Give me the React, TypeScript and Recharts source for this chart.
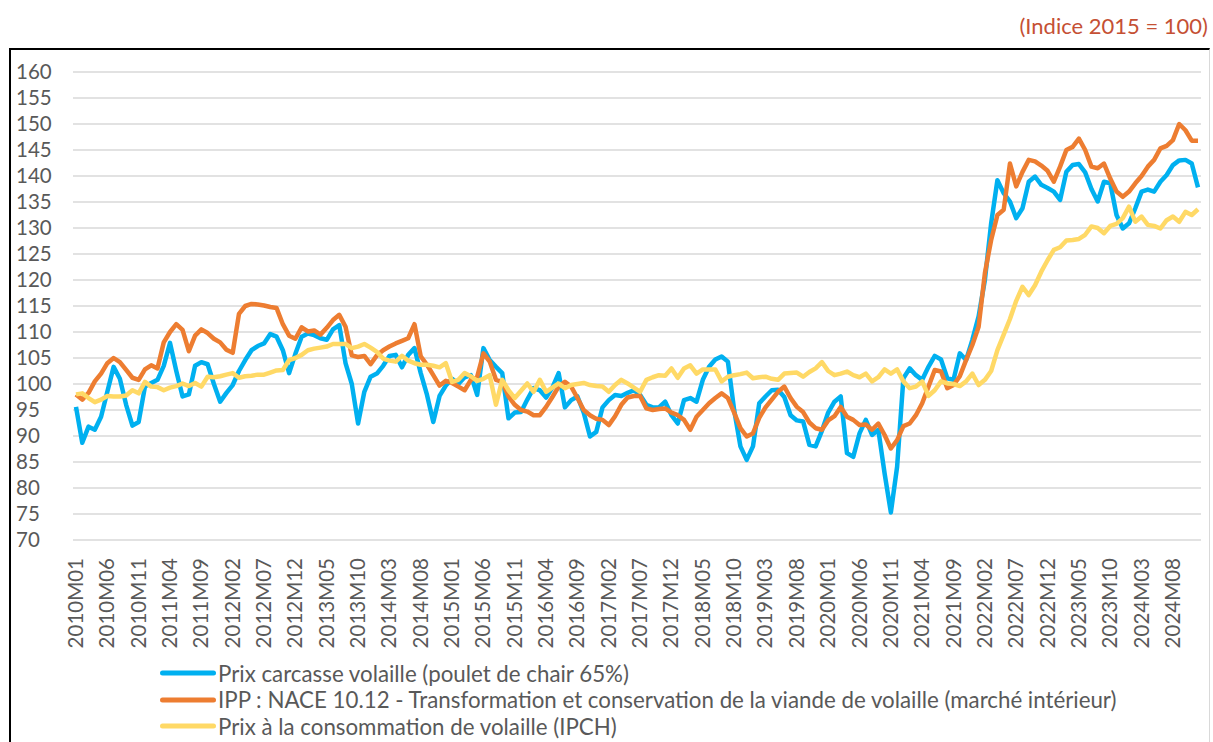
import React from 'react';
import { LineChart, Line, XAxis, YAxis, CartesianGrid } from 'recharts';

// monthly categories 2010M01 .. 2024M12
const years = [2010, 2011, 2012, 2013, 2014, 2015, 2016, 2017, 2018, 2019, 2020, 2021, 2022, 2023, 2024];
const monthCodes = ['01', '02', '03', '04', '05', '06', '07', '08', '09', '10', '11', '12'];
const months = years.flatMap((y) => monthCodes.map((m) => `${y}M${m}`));

// Prix carcasse volaille (poulet de chair 65%)
const carcasse = [
  95.6, 88.7, 91.8, 91.2, 93.7, 98.5, 103.3, 101, 96, 92, 92.7, 99.5,
  100.2, 100.8, 103.5, 107.9, 102.5, 97.6, 98, 103.5, 104.2, 103.8, 100, 96.6,
  98.3, 99.8, 102.5, 104.6, 106.5, 107.3, 107.8, 109.6, 109.1, 106.5, 102.1, 105.8,
  109.1, 109.7, 109.4, 108.8, 108.5, 110.5, 111.3, 104, 100, 92.4, 98.5, 101.4,
  102, 103.5, 105.4, 105.6, 103.2, 105.6, 106.9, 102.1, 97.9, 92.7, 97.7, 99.7,
  101, 100, 101.3, 101.7, 97.9, 106.9, 104.6, 103.3, 102.1, 93.4, 94.5, 94.6,
  97, 99.2, 98.8, 97.4, 99.3, 102.1, 95.5, 96.9, 97.6, 94.5, 89.9, 90.8,
  95.5, 96.9, 97.9, 97.7, 98.3, 98.8, 97.9, 96, 95.5, 95.5, 96.6, 94,
  92.4, 96.9, 97.3, 96.6, 100.8, 103.3, 104.7, 105.3, 104.3, 95, 88, 85.4,
  88, 96.3, 97.6, 98.8, 98.9, 97.5, 94, 93, 92.8, 88.3, 88, 91,
  94.5, 96.6, 97.6, 86.7, 86, 90.5, 93.1, 90.2, 91.2, 82.8, 75.3, 84.1,
  101.1, 103, 101.7, 100.8, 103.3, 105.4, 104.7, 101.1, 100.8, 105.9, 104.6, 108.5,
  113, 120, 130.9, 139.2, 136.7, 135.1, 131.9, 133.8, 138.9, 139.9, 138.3, 137.7,
  137, 135.4, 140.8, 142.1, 142.3, 140.7, 137.5, 135.1, 138.9, 138.6, 132.5, 129.9,
  130.9, 133.8, 137, 137.4, 137, 138.9, 140.2, 142.1, 143, 143.1, 142.4, 137.8,
];

// IPP : NACE 10.12
const ipp = [
  98, 97, 98.3, 100.5, 102, 104, 105, 104.2, 102.7, 101.2, 100.8, 102.8,
  103.6, 103, 108, 110, 111.5, 110.4, 106.3, 109.3, 110.5, 109.8, 108.7, 108,
  106.6, 106, 113.5, 115, 115.4, 115.3, 115.1, 114.8, 114.6, 111.5, 109.3, 108.7,
  110.9, 110.1, 110.3, 109.5, 110.8, 112.3, 113.3, 111, 105.5, 105.2, 105.4, 103.8,
  105.5, 106.5, 107.2, 107.8, 108.3, 108.8, 111.5, 105.3, 103.7, 101.7, 99.7, 100.6,
  100.2, 99.5, 98.8, 100.8, 101.4, 105.9, 104.3, 100.8, 100.4, 97.6, 96, 95,
  94.7, 94, 94, 95.6, 97.5, 99.5, 100.4, 99.5, 97.3, 95, 94, 93.3,
  93.1, 92.1, 93.8, 96, 97.4, 97.7, 97.7, 95.3, 95, 95.2, 95.3, 94.5,
  94, 93.1, 91.2, 93.7, 95, 96.3, 97.3, 98.2, 97.3, 94.5, 91.5, 89.9,
  90.5, 93.5, 95.5, 97, 98.5, 99.5, 97.3, 95.6, 94.6, 92.6, 91.5, 91.2,
  93, 93.8, 95.6, 93.7, 93.1, 92.1, 92.2, 91.2, 92.4, 90.2, 87.6, 89.2,
  91.9, 92.4, 94, 96.3, 99.5, 102.7, 102.4, 99.2, 99.8, 101.5, 104.6, 107.5,
  111, 121.3, 127.7, 132.5, 133.5, 142.4, 138, 140.8, 143.1, 142.8, 142, 141,
  138.9, 141.8, 145, 145.6, 147.2, 145, 141.8, 141.5, 142.4, 139.5, 137, 136,
  137, 138.6, 140, 141.8, 143.1, 145.3, 145.8, 146.9, 150, 148.8, 146.8, 146.8,
];

// Prix à la consommation de volaille (IPCH)
const ipch = [
  98, 98.2, 97.3, 96.5, 97, 97.7, 97.6, 97.6, 97.8, 98.8, 98.2, 100.4,
  99.5, 99.4, 98.8, 99.3, 99.6, 100.1, 99.6, 100.2, 99.5, 101.4, 101.3, 101.5,
  101.8, 102.1, 101.2, 101.5, 101.6, 101.8, 101.8, 102.2, 102.6, 102.7, 104.6, 105,
  105.6, 106.5, 106.8, 107, 107.2, 107.7, 107.7, 107.7, 106.9, 107.2, 107.7, 107,
  106.2, 104.9, 104.5, 104.3, 105.4, 104.5, 104, 103.7, 103.7, 103.5, 103.2, 104,
  100.4, 100.8, 102.1, 101.5, 100.6, 101, 101.7, 96, 100.8, 98.8, 97.3, 98.7,
  100.1, 98.5, 100.8, 98.5, 99.3, 100.1, 99.2, 99.8, 100, 100.2, 99.8, 99.6,
  99.5, 98.5, 99.8, 100.8, 100.1, 99.3, 98.5, 100.8, 101.3, 101.7, 101.6, 103,
  101.2, 103, 103.6, 102, 102.8, 102.8, 102.8, 100.5, 101.4, 101.7, 101.9, 102.2,
  101.1, 101.3, 101.4, 101, 100.8, 102, 102.1, 102.2, 101.4, 102.3, 103, 104.2,
  102.5, 101.7, 102, 102.4, 101.7, 101.3, 102, 100.5, 101.3, 102.8, 102, 102.8,
  100.5, 99.2, 99.5, 100.5, 97.7, 98.8, 100.5, 100.1, 100, 99.6, 100.5, 102,
  99.8, 100.8, 102.5, 106.5, 109.5, 112.5, 116, 118.7, 117.1, 119, 121.6, 123.8,
  125.8, 126.3, 127.6, 127.7, 127.9, 128.7, 130.3, 130, 129, 130.4, 130.8, 131.9,
  134.1, 131.2, 132.2, 130.6, 130.4, 129.9, 131.5, 132.2, 131.2, 133.1, 132.5, 133.6,
];

const yTicks = [70, 75, 80, 85, 90, 95, 100, 105, 110, 115, 120, 125, 130, 135, 140, 145, 150, 155, 160];

const seriesNames = [
  'Prix carcasse volaille (poulet de chair 65%)',
  'IPP : NACE 10.12 - Transformation et conservation de la viande de volaille (marché intérieur)',
  'Prix à la consommation de volaille (IPCH)',
];
const seriesColors = ['#00B0F0', '#ED7D31', '#FFD966'];

const data = months.map((month, i) => ({
  month,
  carcasse: carcasse[i],
  ipp: ipp[i],
  ipch: ipch[i],
}));

const FONT = 'Lato, "Open Sans", sans-serif';
const TEXT = '#595959';

function MonthTick({ x, y, payload }: any) {
  return (
    <text
      transform={`translate(${x + 7},${y + 10}) rotate(-90)`}
      textAnchor="end"
      fill={TEXT}
      fontSize={20.5}
      fontFamily={FONT}
    >
      {payload.value}
    </text>
  );
}

function ValueTick({ y, payload }: any) {
  return (
    <text x={16} y={y} dy="0.36em" textAnchor="start" fill={TEXT} fontSize={20.5} fontFamily={FONT}>
      {payload.value}
    </text>
  );
}

export default function App() {
  return (
    <div style={{ position: 'absolute', left: 0, top: 0, width: 1213, height: 742, background: '#fff', overflow: 'hidden' }}>
      <div
        style={{
          position: 'absolute',
          left: 9,
          top: 48,
          width: 1198,
          height: 760,
          borderTop: '2px solid #000',
          borderLeft: '2px solid #000',
          borderRight: '1px solid #D9D9D9',
        }}
      />
      <div
        style={{
          position: 'absolute',
          right: 5,
          top: 12,
          fontFamily: FONT,
          fontSize: 22,
          color: '#C55034',
          whiteSpace: 'nowrap',
        }}
      >
        (Indice 2015 = 100)
      </div>
      <div style={{ position: 'absolute', left: 0, top: 0 }}>
        <LineChart width={1213} height={742} data={data} margin={{ top: 72, right: 12, bottom: 92, left: 15 }}>
          <CartesianGrid vertical={false} stroke="#D9D9D9" strokeWidth={1.5} />
          <XAxis
            dataKey="month"
            interval={4}
            height={110}
            axisLine={false}
            tickLine={false}
            padding={{ left: 3, right: 3 }}
            tick={<MonthTick />}
          />
          <YAxis
            width={58}
            domain={[70, 160]}
            ticks={yTicks}
            axisLine={false}
            tickLine={false}
            tick={<ValueTick />}
          />
          <Line type="linear" dataKey="carcasse" stroke={seriesColors[0]} strokeWidth={4.5} dot={false} strokeLinejoin="round" isAnimationActive={false} />
          <Line type="linear" dataKey="ipp" stroke={seriesColors[1]} strokeWidth={4.5} dot={false} strokeLinejoin="round" isAnimationActive={false} />
          <Line type="linear" dataKey="ipch" stroke={seriesColors[2]} strokeWidth={4.5} dot={false} strokeLinejoin="round" isAnimationActive={false} />
        </LineChart>
      </div>
      <div style={{ position: 'absolute', left: 160, top: 660, fontFamily: FONT, fontSize: 22.3, color: TEXT }}>
        {seriesNames.map((name, i) => (
          <div key={name} style={{ display: 'flex', alignItems: 'center', height: 26.5, whiteSpace: 'nowrap' }}>
            <svg width={58} height={10} style={{ flex: 'none' }}>
              <line x1={2.5} y1={5} x2={53.5} y2={5} stroke={seriesColors[i]} strokeWidth={5} strokeLinecap="round" />
            </svg>
            <span>{name}</span>
          </div>
        ))}
      </div>
    </div>
  );
}
